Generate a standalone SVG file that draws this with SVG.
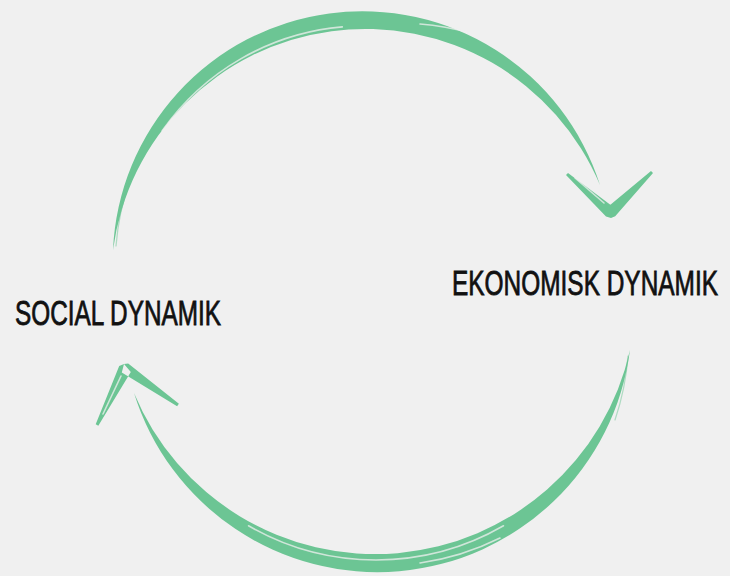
<svg xmlns="http://www.w3.org/2000/svg" width="730" height="576" viewBox="0 0 730 576">
<style>
.bg{fill:#f0f0f0}
.brush{fill:#6cc594}
.gap{fill:none;stroke:#f0f0f0;stroke-width:1.6;stroke-linecap:round;opacity:.75}
.wisp{fill:none;stroke:#6cc594;stroke-width:1.2;stroke-linecap:round;opacity:.5}
.label{font-family:"Liberation Sans",Arial,sans-serif;font-size:24.2px;fill:#111;stroke:#111;stroke-width:0.7;vector-effect:non-scaling-stroke}
</style>
<rect class="bg" x="0" y="0" width="730" height="576"/>
<g id="connectors">
  <g id="arc-social-to-ekonomisk">
    <path class="brush" d="M113,250 A249.5,249.5 0 0 1 600,185 A254.5,254.5 0 0 0 113,250 Z"/>
    <path class="gap" d="M162.2,130.8 A246,246 0 0 1 342.3,26.9"/>
    <path class="gap" d="M420,24 A252,252 0 0 1 470,33"/>
    <path class="wisp" d="M116,246 A256,256 0 0 1 130,180"/>
    <path class="brush" d="M568,172.9 L614,207.5 L611,218 L606,216.5 L566,175.1 Z M606.8,207.7 L651,170.9 L653,173.1 L615.2,216.3 L611,218 Z"/>
    <path class="gap" d="M575,178 L604,203"/>
  </g>
  <g id="arc-ekonomisk-to-social">
    <path class="brush" d="M630,350 A254.8,254.8 0 0 1 134,393 A261.1,261.1 0 0 0 630,350 Z"/>
    <path class="gap" d="M503.5,525.8 A255,255 0 0 1 248.5,525.8"/>
    <path class="gap" d="M500,538 A262,262 0 0 1 420,563"/>
    <path class="wisp" d="M628,356 A258,258 0 0 1 615,420"/>
    <path class="brush" d="M130.8,371.9 L98.3,425.7 L95.7,424.3 L119.2,366.1 L124,364 Z M121.8,372.5 L177.1,406.2 L178.9,403.8 L128.2,363.5 L124,364 Z"/>
    <path class="gap" d="M121,376 L103,414"/>
  </g>
</g>
<g id="node-social">
  <text class="label" transform="translate(15,325) scale(1,1.43)" x="0" y="0" textLength="206" lengthAdjust="spacingAndGlyphs">SOCIAL DYNAMIK</text>
</g>
<g id="node-ekonomisk">
  <text class="label" transform="translate(452,295) scale(1,1.43)" x="0" y="0" textLength="266" lengthAdjust="spacingAndGlyphs">EKONOMISK DYNAMIK</text>
</g>
</svg>
